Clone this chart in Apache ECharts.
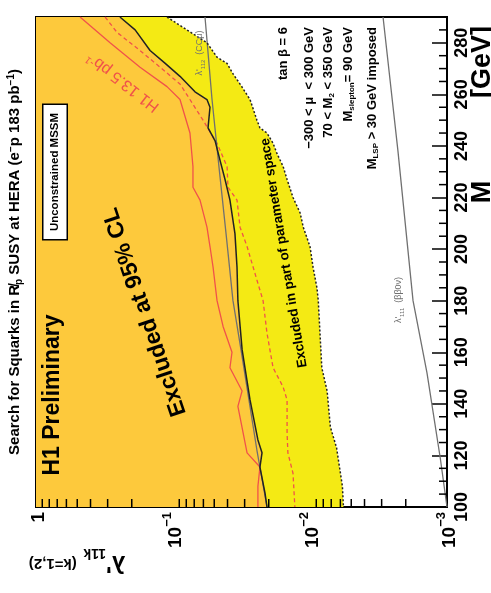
<!DOCTYPE html>
<html>
<head>
<meta charset="utf-8">
<script src="https://cdn.jsdelivr.net/npm/echarts@6/dist/echarts.min.js"></script>
<style>
  html, body { margin: 0; padding: 0; background: #fff; }
  #chart { width: 491px; height: 593px; }
</style>
</head>
<body>
<div id="chart"></div>
<script>
// curves, as [lambda', M (GeV)] from top (290) down to 100
var excluded95 = [
  [0.244, 290], [0.189, 285], [0.147, 277], [0.114, 272], [0.0889, 267], [0.0691, 261],
  [0.0565, 258], [0.0537, 255], [0.0555, 247], [0.0493, 242], [0.0454, 234.5], [0.0417, 227],
  [0.0384, 219], [0.0353, 206], [0.0341, 193], [0.0336, 180], [0.0313, 161], [0.0274, 141.5],
  [0.0240, 126], [0.0224, 121], [0.0232, 115.5], [0.0213, 105.4], [0.0206, 100]
];
var excludedPart = [
  [0.1106, 290], [0.0791, 285], [0.0565, 280], [0.0477, 274.4], [0.0403, 272], [0.0365, 268],
  [0.0324, 264], [0.0274, 258], [0.0244, 250], [0.0232, 247], [0.0206, 245], [0.0186, 241],
  [0.0174, 237], [0.0157, 232], [0.0147, 227], [0.0133, 220], [0.0118, 214], [0.0112, 208.5],
  [0.0100, 201], [0.0095, 193], [0.0089, 185], [0.0087, 180], [0.0082, 154], [0.0075, 145],
  [0.0071, 131], [0.0064, 123], [0.0058, 108], [0.0057, 100]
];
var h1Solid = [
  [0.477, 290], [0.288, 280], [0.174, 270.5], [0.1106, 263], [0.0889, 258], [0.0752, 245],
  [0.0715, 232], [0.0715, 224], [0.0635, 219], [0.0565, 208.5], [0.0537, 201], [0.0510, 193],
  [0.0477, 180], [0.0431, 170], [0.0371, 160], [0.0384, 154], [0.0313, 145], [0.0336, 139],
  [0.0288, 121], [0.0232, 115.5], [0.0240, 108], [0.0240, 100]
];
var h1Dashed = [
  [0.313, 290], [0.256, 284], [0.174, 277], [0.124, 270.5], [0.0889, 264], [0.0752, 258],
  [0.0604, 250], [0.0477, 241], [0.0403, 232], [0.0397, 224], [0.0341, 219], [0.0324, 208.5],
  [0.0288, 201], [0.0244, 188], [0.0220, 180], [0.0206, 167.4], [0.0186, 154], [0.0157, 146.5],
  [0.0147, 141.5], [0.0147, 128.7], [0.0145, 121], [0.0133, 113], [0.0129, 100]
];
var lambda112 = [
  [0.0584, 290], [0.0519, 258], [0.0462, 232], [0.0410, 206], [0.0365, 180], [0.0319, 161],
  [0.0279, 141.5], [0.0244, 122], [0.0206, 100]
];
var lambda111 = [
  [0.00293, 290], [0.00228, 238], [0.00177, 180], [0.00140, 152], [0.00112, 119], [0.00100, 100]
];

var lambdaMinorTicks = [0.002, 0.003, 0.004, 0.005, 0.006, 0.007, 0.008, 0.009,
  0.02, 0.03, 0.04, 0.05, 0.06, 0.07, 0.08, 0.09,
  0.2, 0.3, 0.4, 0.5, 0.6, 0.7, 0.8, 0.9];
var massMinorTicks = [105, 110, 115, 125, 130, 135, 145, 150, 155, 165, 170, 175, 185, 190, 195,
  205, 210, 215, 225, 230, 235, 245, 250, 255, 265, 270, 275, 285];

var paramLines = ['tan \u03b2 = 6', '\u2212300 < \u03bc  < 300 GeV', '70 < M{sub|2} < 350 GeV',
  'M{sub|slepton}= 90 GeV', 'M{sub|LSP} > 30 GeV imposed'];

var FONT = 'Liberation Sans, Arial, Helvetica, sans-serif';
var ORANGE = '#fdc93c';
var YELLOW = '#f4ea14';
var RED = '#f0524a';
var GRAY = '#707070';

var myChart = echarts.init(document.getElementById('chart'));

function polygon(points, color, z) {
  return {
    type: 'custom', silent: true, z: z, animation: false,
    data: [[0.1, 200]],
    renderItem: function (params, api) {
      return {
        type: 'polygon',
        shape: { points: points.map(function (p) { return api.coord(p); }) },
        style: { fill: color }
      };
    }
  };
}

function curve(points, color, width, type, z) {
  return {
    type: 'line', data: points, showSymbol: false, silent: true, z: z, animation: false,
    lineStyle: { color: color, width: width, type: type }
  };
}

var orangeArea = [[1, 290]].concat(excluded95, [[1, 100]]);
var yellowArea = excluded95.concat(excludedPart.slice().reverse());

var texts = [
  {
    type: 'text', x: 15, y: 262, rotation: Math.PI / 2, z: 20,
    style: {
      text: 'Search for Squarks in R\u0338{sub|p} SUSY at HERA (e{sup|\u2212}p 183 pb{sup|\u22121})',
      font: 'bold 15px ' + FONT, fill: '#000', align: 'center', verticalAlign: 'middle',
      rich: {
        sub: { font: 'bold 10px ' + FONT, verticalAlign: 'bottom', lineHeight: 18 },
        sup: { font: 'bold 10px ' + FONT, verticalAlign: 'top', lineHeight: 18 }
      }
    }
  },
  {
    type: 'text', x: 53, y: 395, rotation: Math.PI / 2, z: 20,
    style: { text: 'H1 Preliminary', font: 'bold 23px ' + FONT, fill: '#000', align: 'center', verticalAlign: 'middle' }
  },
  {
    type: 'text', x: 55, y: 172, rotation: Math.PI / 2, z: 20,
    style: {
      text: 'Unconstrained MSSM', font: 'bold 11.5px ' + FONT, fill: '#000', align: 'center', verticalAlign: 'middle',
      backgroundColor: '#fff', borderColor: '#000', borderWidth: 1.5, padding: [6, 8, 5, 8]
    }
  },
  {
    type: 'text', x: 145, y: 312, rotation: 1.897, z: 20,
    style: { text: 'Excluded at 95% CL', font: 'bold 23px ' + FONT, fill: '#000', align: 'center', verticalAlign: 'middle' }
  },
  {
    type: 'text', x: 284, y: 253, rotation: 1.735, z: 20,
    style: { text: 'Excluded in part of parameter space', font: 'bold 13.5px ' + FONT, fill: '#000', align: 'center', verticalAlign: 'middle' }
  },
  {
    type: 'text', x: 123, y: 82, rotation: 2.48, z: 20,
    style: {
      text: 'H1 13.5 pb{sup|-1}', font: '16px ' + FONT, fill: RED, align: 'center', verticalAlign: 'middle',
      rich: { sup: { font: '10px ' + FONT, fill: RED, verticalAlign: 'top', lineHeight: 18 } }
    }
  },
  {
    type: 'text', x: 200, y: 53, rotation: Math.PI / 2, z: 20,
    style: {
      text: '\u03bb\'{sub|112}  (CC\u03bc)', font: '9px ' + FONT, fill: GRAY, align: 'center', verticalAlign: 'middle',
      rich: { sub: { font: '6px ' + FONT, fill: GRAY, verticalAlign: 'bottom', lineHeight: 12 } }
    }
  },
  {
    type: 'text', x: 399, y: 300, rotation: Math.PI / 2, z: 20,
    style: {
      text: '\u03bb\'{sub|111}  (\u03b2\u03b20\u03bd)', font: '9px ' + FONT, fill: GRAY, align: 'center', verticalAlign: 'middle',
      rich: { sub: { font: '6px ' + FONT, fill: GRAY, verticalAlign: 'bottom', lineHeight: 12 } }
    }
  },
  {
    type: 'text', x: 483, y: 192, rotation: Math.PI / 2, z: 20,
    style: { text: 'M', font: 'bold 27px ' + FONT, fill: '#000', align: 'center', verticalAlign: 'middle' }
  },
  {
    type: 'text', x: 483, y: 62, rotation: Math.PI / 2, z: 20,
    style: { text: '[GeV]', font: 'bold 27px ' + FONT, fill: '#000', align: 'center', verticalAlign: 'middle' }
  },
  {
    type: 'text', x: 77, y: 563, rotation: Math.PI, z: 20,
    style: {
      text: '{l|\u03bb\'}{s|11k}  {p|(k=1,2)}', fill: '#000', align: 'center', verticalAlign: 'middle',
      rich: {
        l: { fontSize: 24, fontWeight: 'bold', fontFamily: FONT, verticalAlign: 'middle', lineHeight: 34 },
        s: { fontSize: 14, fontWeight: 'bold', fontFamily: FONT, verticalAlign: 'bottom', lineHeight: 34 },
        p: { fontSize: 15, fontWeight: 'bold', fontFamily: FONT, verticalAlign: 'middle', lineHeight: 34 }
      }
    }
  }
];

var paramX = [283, 309, 328, 348, 372];
paramLines.forEach(function (t, i) {
  texts.push({
    type: 'text', x: paramX[i], y: 27, rotation: Math.PI / 2, z: 20,
    style: {
      text: t, font: 'bold 13px ' + FONT, fill: '#000', align: 'right', verticalAlign: 'middle',
      rich: { sub: { font: 'bold 8px ' + FONT, verticalAlign: 'bottom', lineHeight: 16 } }
    }
  });
});

var option = {
  backgroundColor: '#fff',
  animation: false,
  grid: {
    left: 36, right: 44, top: 17, bottom: 86,
    show: true, borderColor: '#000', borderWidth: 2, backgroundColor: 'transparent'
  },
  xAxis: {
    type: 'log', logBase: 10, min: 0.001, max: 1, inverse: true,
    axisLine: { show: true, lineStyle: { color: '#000', width: 2 } },
    axisTick: { show: true, inside: true, length: 15, lineStyle: { color: '#000', width: 1.5 } },
    splitLine: { show: false },
    axisLabel: {
      rotate: 90, margin: 5, color: '#000', align: 'right', verticalAlign: 'middle',
      fontSize: 19, fontWeight: 'bold', fontFamily: FONT,
      formatter: function (v) {
        var e = Math.round(Math.log10(v));
        return e === 0 ? '{n|1}' : '{n|10}{s|\u2212' + (-e) + '}';
      },
      rich: {
        n: { fontSize: 19, fontWeight: 'bold', fontFamily: FONT, color: '#000', verticalAlign: 'bottom', lineHeight: 24 },
        s: { fontSize: 13, fontWeight: 'bold', fontFamily: FONT, color: '#000', verticalAlign: 'top', lineHeight: 24 }
      }
    }
  },
  yAxis: {
    type: 'value', position: 'right', min: 100, max: 290, interval: 20,
    axisLine: { show: true, lineStyle: { color: '#000', width: 2 } },
    axisTick: { show: true, inside: true, length: 15, lineStyle: { color: '#000', width: 1.5 } },
    splitLine: { show: false },
    axisLabel: {
      rotate: 90, margin: 6, showMaxLabel: false, color: '#000',
      fontWeight: 'bold', fontSize: 18, fontFamily: FONT,
      align: 'center', verticalAlign: 'top'
    }
  },
  graphic: texts,
  series: [
    polygon(orangeArea, ORANGE, 1),
    polygon(yellowArea, YELLOW, 1),
    curve(excluded95, '#222', 1.5, 'solid', 4),
    curve(excludedPart, '#222', 1.5, [2, 2], 4),
    curve(h1Solid, RED, 1.3, 'solid', 3),
    curve(h1Dashed, RED, 1.3, [4, 3], 3),
    curve(lambda112, GRAY, 1.3, 'solid', 3),
    curve(lambda111, GRAY, 1.3, 'solid', 3),
    {
      type: 'custom', silent: true, z: 5, animation: false,
      data: lambdaMinorTicks.map(function (v) { return [v, 100]; }),
      renderItem: function (params, api) {
        var p = api.coord([api.value(0), api.value(1)]);
        return { type: 'line', shape: { x1: p[0], y1: p[1], x2: p[0], y2: p[1] - 8 }, style: { stroke: '#000', lineWidth: 1.5 } };
      }
    },
    {
      type: 'custom', silent: true, z: 5, animation: false,
      data: massMinorTicks.map(function (m) { return [0.001, m]; }),
      renderItem: function (params, api) {
        var p = api.coord([api.value(0), api.value(1)]);
        return { type: 'line', shape: { x1: p[0], y1: p[1], x2: p[0] - 8, y2: p[1] }, style: { stroke: '#000', lineWidth: 1.5 } };
      }
    }
  ]
};
myChart.setOption(option);
</script>
</body>
</html>
